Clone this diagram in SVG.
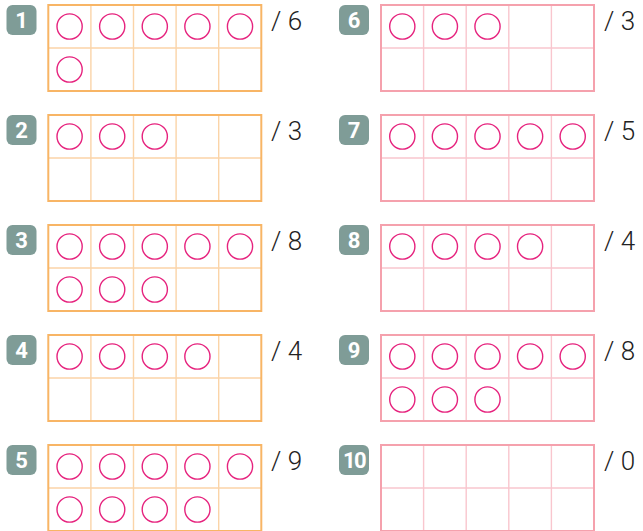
<svg xmlns="http://www.w3.org/2000/svg" xmlns:xlink="http://www.w3.org/1999/xlink" width="643" height="531" viewBox="0 0 643 531">
<style>
.badge{fill:#7F9C97}
.bt{fill:#fff;font-family:Roboto,"Liberation Sans",sans-serif;font-weight:700;font-size:22px;text-anchor:middle}
.sc{fill:#222;font-family:Roboto,"Liberation Sans",sans-serif;font-weight:300;font-size:26px}
.c{fill:none;stroke:#E6237E;stroke-width:1.4}
.o{color:#FBD4A8;stroke:#F8B565}
.p{color:#F9C6CE;stroke:#F5A1AD}
</style>
<defs>
<g id="grid" fill="none">
<path d="M42.6 0V86M85.2 0V86M127.8 0V86M170.4 0V86M0 43H213" stroke="currentColor" stroke-width="1.4"/>
<rect x="0" y="0" width="213" height="86" stroke-width="2"/>
</g>
<circle id="ci" r="12.6" class="c"/>
</defs>
<g id="connectors"/>
<g id="n1">
<rect class="badge" x="6.5" y="5" width="30" height="30" rx="6"/><text class="bt" x="21.5" y="28">1</text>
<use xlink:href="#grid" class="o" x="48.3" y="5"/>
<use xlink:href="#ci" x="69.6" y="26.5"/><use xlink:href="#ci" x="112.2" y="26.5"/><use xlink:href="#ci" x="154.8" y="26.5"/><use xlink:href="#ci" x="197.4" y="26.5"/><use xlink:href="#ci" x="240" y="26.5"/>
<use xlink:href="#ci" x="69.6" y="69.5"/>
<text class="sc" x="271" y="30">/ 6</text>
</g>
<g id="n2">
<rect class="badge" x="6.5" y="115" width="30" height="30" rx="6"/><text class="bt" x="21.5" y="138">2</text>
<use xlink:href="#grid" class="o" x="48.3" y="115"/>
<use xlink:href="#ci" x="69.6" y="136.5"/><use xlink:href="#ci" x="112.2" y="136.5"/><use xlink:href="#ci" x="154.8" y="136.5"/>
<text class="sc" x="271" y="140">/ 3</text>
</g>
<g id="n3">
<rect class="badge" x="6.5" y="225" width="30" height="30" rx="6"/><text class="bt" x="21.5" y="248">3</text>
<use xlink:href="#grid" class="o" x="48.3" y="225"/>
<use xlink:href="#ci" x="69.6" y="246.5"/><use xlink:href="#ci" x="112.2" y="246.5"/><use xlink:href="#ci" x="154.8" y="246.5"/><use xlink:href="#ci" x="197.4" y="246.5"/><use xlink:href="#ci" x="240" y="246.5"/>
<use xlink:href="#ci" x="69.6" y="289.5"/><use xlink:href="#ci" x="112.2" y="289.5"/><use xlink:href="#ci" x="154.8" y="289.5"/>
<text class="sc" x="271" y="250">/ 8</text>
</g>
<g id="n4">
<rect class="badge" x="6.5" y="335" width="30" height="30" rx="6"/><text class="bt" x="21.5" y="358">4</text>
<use xlink:href="#grid" class="o" x="48.3" y="335"/>
<use xlink:href="#ci" x="69.6" y="356.5"/><use xlink:href="#ci" x="112.2" y="356.5"/><use xlink:href="#ci" x="154.8" y="356.5"/><use xlink:href="#ci" x="197.4" y="356.5"/>
<text class="sc" x="271" y="360">/ 4</text>
</g>
<g id="n5">
<rect class="badge" x="6.5" y="445" width="30" height="30" rx="6"/><text class="bt" x="21.5" y="468">5</text>
<use xlink:href="#grid" class="o" x="48.3" y="445"/>
<use xlink:href="#ci" x="69.6" y="466.5"/><use xlink:href="#ci" x="112.2" y="466.5"/><use xlink:href="#ci" x="154.8" y="466.5"/><use xlink:href="#ci" x="197.4" y="466.5"/><use xlink:href="#ci" x="240" y="466.5"/>
<use xlink:href="#ci" x="69.6" y="509.5"/><use xlink:href="#ci" x="112.2" y="509.5"/><use xlink:href="#ci" x="154.8" y="509.5"/><use xlink:href="#ci" x="197.4" y="509.5"/>
<text class="sc" x="271" y="470">/ 9</text>
</g>
<g id="n6">
<rect class="badge" x="339" y="5" width="30" height="30" rx="6"/><text class="bt" x="354" y="28">6</text>
<use xlink:href="#grid" class="p" x="381" y="5"/>
<use xlink:href="#ci" x="402.3" y="26.5"/><use xlink:href="#ci" x="444.9" y="26.5"/><use xlink:href="#ci" x="487.5" y="26.5"/>
<text class="sc" x="604" y="30">/ 3</text>
</g>
<g id="n7">
<rect class="badge" x="339" y="115" width="30" height="30" rx="6"/><text class="bt" x="354" y="138">7</text>
<use xlink:href="#grid" class="p" x="381" y="115"/>
<use xlink:href="#ci" x="402.3" y="136.5"/><use xlink:href="#ci" x="444.9" y="136.5"/><use xlink:href="#ci" x="487.5" y="136.5"/><use xlink:href="#ci" x="530.1" y="136.5"/><use xlink:href="#ci" x="572.7" y="136.5"/>
<text class="sc" x="604" y="140">/ 5</text>
</g>
<g id="n8">
<rect class="badge" x="339" y="225" width="30" height="30" rx="6"/><text class="bt" x="354" y="248">8</text>
<use xlink:href="#grid" class="p" x="381" y="225"/>
<use xlink:href="#ci" x="402.3" y="246.5"/><use xlink:href="#ci" x="444.9" y="246.5"/><use xlink:href="#ci" x="487.5" y="246.5"/><use xlink:href="#ci" x="530.1" y="246.5"/>
<text class="sc" x="604" y="250">/ 4</text>
</g>
<g id="n9">
<rect class="badge" x="339" y="335" width="30" height="30" rx="6"/><text class="bt" x="354" y="358">9</text>
<use xlink:href="#grid" class="p" x="381" y="335"/>
<use xlink:href="#ci" x="402.3" y="356.5"/><use xlink:href="#ci" x="444.9" y="356.5"/><use xlink:href="#ci" x="487.5" y="356.5"/><use xlink:href="#ci" x="530.1" y="356.5"/><use xlink:href="#ci" x="572.7" y="356.5"/>
<use xlink:href="#ci" x="402.3" y="399.5"/><use xlink:href="#ci" x="444.9" y="399.5"/><use xlink:href="#ci" x="487.5" y="399.5"/>
<text class="sc" x="604" y="360">/ 8</text>
</g>
<g id="n10">
<rect class="badge" x="339" y="445" width="30" height="30" rx="6"/><text class="bt" x="354" y="468" letter-spacing="-1.5">10</text>
<use xlink:href="#grid" class="p" x="381" y="445"/>
<text class="sc" x="604" y="470">/ 0</text>
</g>
</svg>
